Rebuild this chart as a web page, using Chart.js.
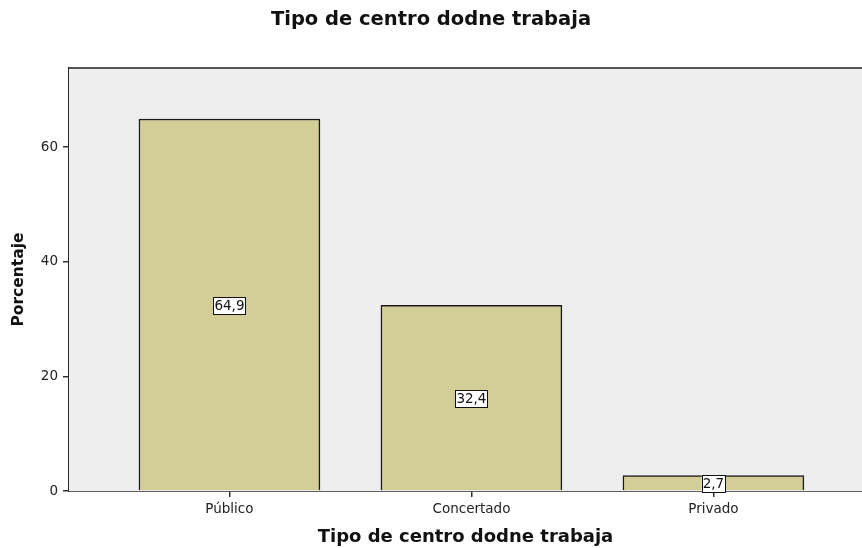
<!DOCTYPE html>
<html>
<head>
<meta charset="utf-8">
<script src="https://cdn.jsdelivr.net/npm/chart.js@4/dist/chart.umd.min.js"></script>
<style>
  html, body { margin: 0; padding: 0; background: #fff; }
  #wrap { width: 862px; height: 548px; }
</style>
</head>
<body>
<div id="wrap"><canvas id="barChart" width="862" height="548"></canvas></div>
<script>
// Datos
const categorias = ['Público', 'Concertado', 'Privado'];
const porcentajes = [64.9, 32.4, 2.7];
const ticksY = [0, 20, 40, 60];
const titulo = 'Tipo de centro dodne trabaja';
const tituloY = 'Porcentaje';

Chart.defaults.font.family = '"DejaVu Sans", sans-serif';
Chart.defaults.color = '#222';

// fondo gris del área del gráfico + borde superior
const fondoPlugin = {
    id: 'fondo',
    beforeDatasetsDraw(chart) {
        const { ctx, chartArea: a } = chart;
        ctx.save();
        ctx.fillStyle = '#eeeeee';
        ctx.fillRect(a.left, a.top, a.right - a.left, a.bottom - a.top);
        ctx.restore();
    },
    afterDraw(chart) {
        const { ctx, chartArea: a } = chart;
        ctx.save();
        ctx.strokeStyle = '#555';
        ctx.lineWidth = 2;
        ctx.beginPath();
        ctx.moveTo(a.left, a.top);
        ctx.lineTo(a.right, a.top);
        ctx.stroke();
        ctx.restore();
    }
};

// etiquetas de valor en cajitas blancas
const etiquetasPlugin = {
    id: 'etiquetas',
    afterDatasetsDraw(chart) {
        const { ctx } = chart;
        const meta = chart.getDatasetMeta(0);
        ctx.save();
        ctx.font = '13.5px "DejaVu Sans", sans-serif';
        ctx.textAlign = 'center';
        ctx.textBaseline = 'middle';
        meta.data.forEach((bar, i) => {
            const txt = porcentajes[i].toFixed(1).replace('.', ',');
            const w = ctx.measureText(txt).width + 2;
            const h = 17;
            const cy = (bar.y + bar.base) / 2 + 1;
            ctx.fillStyle = '#fff';
            ctx.fillRect(bar.x - w / 2, cy - h / 2, w, h);
            ctx.strokeStyle = '#111';
            ctx.lineWidth = 1;
            ctx.strokeRect(Math.round(bar.x - w / 2) + 0.5, Math.round(cy - h / 2) + 0.5, Math.round(w), h);
            ctx.fillStyle = '#111';
            ctx.fillText(txt, bar.x, cy + 1);
        });
        ctx.restore();
    }
};

const ctx = document.getElementById('barChart').getContext('2d');
new Chart(ctx, {
    type: 'bar',
    data: {
        datasets: [{
            data: porcentajes.map((v, i) => ({ x: i, y: v })),
            backgroundColor: '#d3ce97',
            borderColor: '#1a1a1a',
            borderWidth: 1.5,
            barThickness: 181
        }]
    },
    options: {
        responsive: false,
        animation: false,
        layout: { padding: 0 },
        plugins: {
            legend: { display: false },
            tooltip: { enabled: false },
            title: {
                display: true,
                text: titulo,
                color: '#111',
                font: { size: 19.5, weight: 'bold' },
                padding: { top: 8, bottom: 36.6 }
            }
        },
        scales: {
            x: {
                type: 'linear',
                offset: false,
                min: -0.663,
                max: 2.614,
                afterBuildTicks: (scale) => { scale.ticks = categorias.map((c, i) => ({ value: i })); },
                afterFit: (scale) => { scale.height = 57; },
                ticks: {
                    autoSkip: false,
                    maxRotation: 0,
                    padding: 4,
                    font: { size: 13.5 },
                    callback: (v) => categorias[v]
                },
                grid: { offset: false, drawOnChartArea: false, drawTicks: true, tickLength: 6, color: '#333', lineWidth: 1.5 },
                border: { display: true, color: '#2a2a2a', width: 1.8 },
                title: {
                    display: true,
                    text: titulo,
                    color: '#111',
                    font: { size: 18, weight: 'bold' },
                    padding: { top: 0, bottom: 0 }
                }
            },
            y: {
                min: 0,
                max: 73.8,
                afterBuildTicks: (scale) => { scale.ticks = ticksY.map(v => ({ value: v })); },
                afterFit: (scale) => { scale.width = 69; },
                ticks: { padding: 5, font: { size: 13.5 } },
                grid: { drawOnChartArea: false, drawTicks: true, tickLength: 6, color: '#333', lineWidth: 1.5 },
                border: { display: true, color: '#2a2a2a', width: 1.8 },
                title: {
                    display: true,
                    text: tituloY,
                    color: '#111',
                    font: { size: 15.5, weight: 'bold' },
                    padding: { top: 10, bottom: 0 }
                }
            }
        }
    },
    plugins: [fondoPlugin, etiquetasPlugin]
});
</script>
</body>
</html>
